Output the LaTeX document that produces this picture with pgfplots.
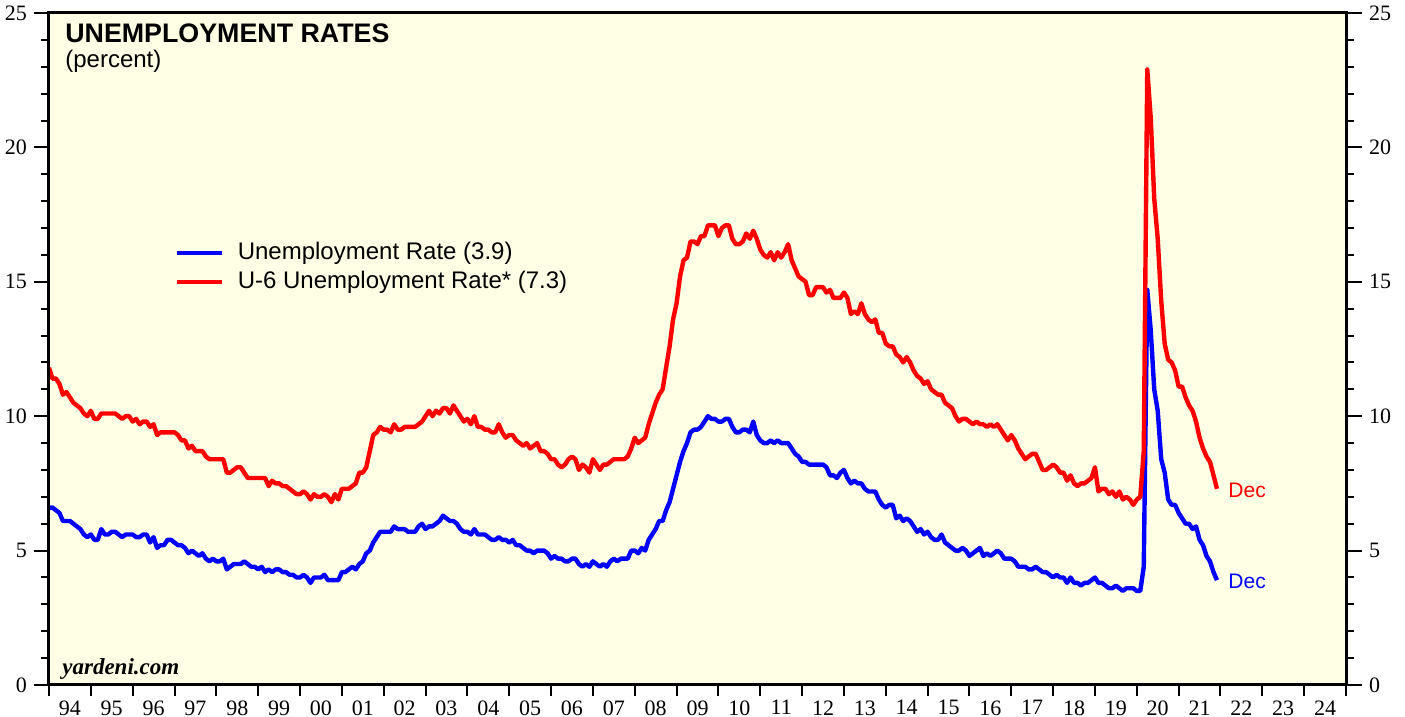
\documentclass[border=0pt]{standalone}
\usepackage{pgfplots}
\pgfplotsset{compat=1.18}
\usepackage{pgfplotstable}
\usepackage{fontspec}
\setmainfont{Liberation Sans}
\newfontfamily\timesf{Liberation Serif}
\definecolor{bgyellow}{RGB}{255,255,230}
\definecolor{ured}{RGB}{255,0,0}
\definecolor{ublue}{RGB}{0,0,255}

% monthly data Jan 1994 - Dec 2021
\pgfplotstableread{
u3 u6
6.6 11.8
6.6 11.4
6.5 11.4
6.4 11.2
6.1 10.8
6.1 10.9
6.1 10.7
6.0 10.5
5.9 10.4
5.8 10.3
5.6 10.1
5.5 10.0
5.6 10.2
5.4 9.9
5.4 9.9
5.8 10.1
5.6 10.1
5.6 10.1
5.7 10.1
5.7 10.1
5.6 10.0
5.5 9.9
5.6 10.0
5.6 10.0
5.6 9.8
5.5 9.9
5.5 9.7
5.6 9.8
5.6 9.8
5.3 9.6
5.5 9.7
5.1 9.3
5.2 9.4
5.2 9.4
5.4 9.4
5.4 9.4
5.3 9.4
5.2 9.3
5.2 9.1
5.1 9.1
4.9 8.8
5.0 8.9
4.9 8.7
4.8 8.7
4.9 8.7
4.7 8.5
4.6 8.4
4.7 8.4
4.6 8.4
4.6 8.4
4.7 8.4
4.3 7.9
4.4 7.9
4.5 8.0
4.5 8.1
4.5 8.1
4.6 7.9
4.5 7.7
4.4 7.7
4.4 7.7
4.3 7.7
4.4 7.7
4.2 7.7
4.3 7.4
4.2 7.6
4.3 7.5
4.3 7.5
4.2 7.4
4.2 7.4
4.1 7.3
4.1 7.2
4.0 7.1
4.0 7.1
4.1 7.2
4.0 7.1
3.8 6.9
4.0 7.1
4.0 7.0
4.0 7.0
4.1 7.1
3.9 7.0
3.9 6.8
3.9 7.1
3.9 6.9
4.2 7.3
4.2 7.3
4.3 7.3
4.4 7.4
4.3 7.5
4.5 7.9
4.6 7.9
4.9 8.1
5.0 8.7
5.3 9.3
5.5 9.4
5.7 9.6
5.7 9.5
5.7 9.5
5.7 9.4
5.9 9.7
5.8 9.5
5.8 9.5
5.8 9.6
5.7 9.6
5.7 9.6
5.7 9.6
5.9 9.7
6.0 9.8
5.8 10.0
5.9 10.2
5.9 10.0
6.0 10.2
6.1 10.1
6.3 10.3
6.2 10.3
6.1 10.1
6.1 10.4
6.0 10.2
5.8 10.0
5.7 9.8
5.7 9.9
5.6 9.7
5.8 10.0
5.6 9.6
5.6 9.6
5.6 9.5
5.5 9.5
5.4 9.4
5.4 9.4
5.5 9.7
5.4 9.4
5.4 9.2
5.3 9.3
5.4 9.3
5.2 9.1
5.2 9.0
5.1 8.9
5.0 9.0
5.0 8.8
4.9 8.9
5.0 9.0
5.0 8.7
5.0 8.7
4.9 8.6
4.7 8.4
4.8 8.4
4.7 8.2
4.7 8.1
4.6 8.2
4.6 8.4
4.7 8.5
4.7 8.4
4.5 8.0
4.4 8.2
4.5 8.1
4.4 7.9
4.6 8.4
4.5 8.2
4.4 8.0
4.5 8.2
4.4 8.2
4.6 8.3
4.7 8.4
4.6 8.4
4.7 8.4
4.7 8.4
4.7 8.5
5.0 8.8
5.0 9.2
4.9 9.0
5.1 9.1
5.0 9.2
5.4 9.7
5.6 10.1
5.8 10.5
6.1 10.8
6.1 11.0
6.5 11.8
6.8 12.6
7.3 13.6
7.8 14.2
8.3 15.2
8.7 15.8
9.0 15.9
9.4 16.5
9.5 16.5
9.5 16.4
9.6 16.7
9.8 16.7
10.0 17.1
9.9 17.1
9.9 17.1
9.8 16.7
9.8 17.0
9.9 17.1
9.9 17.1
9.6 16.6
9.4 16.4
9.4 16.4
9.5 16.5
9.5 16.8
9.4 16.6
9.8 16.9
9.3 16.6
9.1 16.2
9.0 16.0
9.0 15.9
9.1 16.1
9.0 15.8
9.1 16.1
9.0 15.9
9.0 16.1
9.0 16.4
8.8 15.8
8.6 15.5
8.5 15.2
8.3 15.1
8.3 15.0
8.2 14.5
8.2 14.5
8.2 14.8
8.2 14.8
8.2 14.8
8.1 14.6
7.8 14.7
7.8 14.4
7.7 14.4
7.9 14.4
8.0 14.6
7.7 14.4
7.5 13.8
7.6 13.9
7.5 13.8
7.5 14.2
7.3 13.8
7.2 13.6
7.2 13.5
7.2 13.6
6.9 13.1
6.7 13.1
6.6 12.7
6.7 12.6
6.7 12.6
6.2 12.3
6.3 12.2
6.1 12.0
6.2 12.2
6.1 12.0
5.9 11.7
5.7 11.5
5.8 11.4
5.6 11.2
5.7 11.3
5.5 11.0
5.4 10.9
5.4 10.8
5.6 10.8
5.3 10.5
5.2 10.4
5.1 10.3
5.0 10.0
5.0 9.8
5.1 9.9
5.0 9.9
4.8 9.8
4.9 9.7
5.0 9.8
5.1 9.7
4.8 9.7
4.9 9.6
4.8 9.7
4.9 9.6
5.0 9.7
4.9 9.5
4.7 9.3
4.7 9.1
4.7 9.3
4.6 9.1
4.4 8.8
4.4 8.6
4.4 8.4
4.3 8.5
4.3 8.6
4.4 8.6
4.3 8.3
4.2 8.0
4.2 8.0
4.1 8.1
4.0 8.2
4.1 8.1
4.0 7.9
4.0 7.9
3.8 7.6
4.0 7.8
3.8 7.5
3.8 7.4
3.7 7.5
3.8 7.5
3.8 7.6
3.9 7.7
4.0 8.1
3.8 7.2
3.8 7.3
3.7 7.3
3.6 7.1
3.6 7.2
3.7 7.0
3.6 7.2
3.5 6.9
3.6 7.0
3.6 6.9
3.6 6.7
3.5 6.9
3.5 7.0
4.4 8.7
14.7 22.9
13.2 21.1
11.0 18.1
10.2 16.6
8.4 14.3
7.9 12.7
6.9 12.1
6.7 12.0
6.7 11.7
6.4 11.1
6.2 11.1
6.0 10.7
6.0 10.4
5.8 10.2
5.9 9.8
5.4 9.2
5.2 8.8
4.8 8.5
4.6 8.3
4.2 7.8
3.9 7.3
}\datatable

\begin{document}
\begin{tikzpicture}
% main axis: background, data, x ticks
\begin{axis}[
  scale only axis, width=648.5pt, height=336pt,
  xmin=1994, xmax=2025, ymin=0, ymax=25,
  axis background/.style={fill=bgyellow},
  axis line style={line width=1.5pt, black},
  xtick={1994,1995,...,2025},
  xticklabels={94,95,96,97,98,99,00,01,02,03,04,05,06,07,08,09,10,11,12,13,14,15,16,17,18,19,20,21,22,23,24,{}},
  xtick pos=bottom,
  ytick=\empty,
  tick align=outside,
  major tick length=5.5pt,
  tick style={line width=1pt, black},
  /pgf/number format/assume math mode=true,
  xticklabel style={font=\timesf\fontsize{11}{13}\selectfont, xshift=10.46pt, yshift=1.3pt},
  legend style={at={(0.097,0.661)}, anchor=north west, draw=none, fill=none,
    font=\fontsize{12}{14}\selectfont, inner sep=0pt, row sep=2.5pt,
    nodes={inner xsep=2.6pt, inner ysep=0pt, text height=9pt, text depth=3pt}},
  legend cell align=left,
  legend image code/.code={\draw[#1] (0pt,0pt) -- (22.5pt,0pt); \path (26.5pt,0pt);},
  clip=false,
]
\addplot[ublue, line width=2.2pt, line join=round] table[x expr={1994+\coordindex/12}, y=u3] {\datatable};
\addlegendentry{Unemployment Rate (3.9)}
\addplot[ured, line width=2.2pt, line join=round] table[x expr={1994+\coordindex/12}, y=u6] {\datatable};
\addlegendentry{U-6 Unemployment Rate* (7.3)}

\node[anchor=base west, inner sep=0pt, font=\bfseries\fontsize{13.4}{15}\selectfont] at (rel axis cs:0.0123,0.9568) {UNEMPLOYMENT RATES};
\node[anchor=base west, inner sep=0pt, font=\fontsize{12}{14}\selectfont] at (rel axis cs:0.0123,0.9196) {(percent)};
\node[anchor=base west, inner sep=0pt, font=\timesf\bfseries\itshape\fontsize{11.5}{13}\selectfont] at (rel axis cs:0.010,0.0149) {yardeni.com};
\node[anchor=base west, inner sep=0pt, text=ured, font=\fontsize{10.5}{12}\selectfont] at (axis cs:2022.18,6.96) {Dec};
\node[anchor=base west, inner sep=0pt, text=ublue, font=\fontsize{10.5}{12}\selectfont] at (axis cs:2022.18,3.6) {Dec};
\end{axis}
% left y axis
\begin{axis}[
  scale only axis, width=648.5pt, height=336pt,
  xmin=1994, xmax=2025, ymin=0, ymax=25,
  axis x line=none, axis y line*=left,
  axis line style={line width=1.5pt, black, -},
  ytick={0,5,10,15,20,25}, minor y tick num=4,
  tick align=outside, major tick length=7.5pt, minor tick length=3.75pt,
  tick style={line width=1pt, black},
  /pgf/number format/assume math mode=true,
  yticklabel style={font=\timesf\fontsize{11}{13}\selectfont},
]
\end{axis}
% right y axis
\begin{axis}[
  scale only axis, width=648.5pt, height=336pt,
  xmin=1994, xmax=2025, ymin=0, ymax=25,
  axis x line=none, axis y line*=right,
  axis line style={line width=1.5pt, black, -},
  ytick={0,5,10,15,20,25}, minor y tick num=4,
  tick align=outside, major tick length=8pt, minor tick length=4pt,
  tick style={line width=1pt, black},
  /pgf/number format/assume math mode=true,
  yticklabel style={font=\timesf\fontsize{11}{13}\selectfont},
]
\end{axis}
\pgfresetboundingbox
\useasboundingbox (-24.5pt,-16pt) rectangle (678pt,342.5pt);
\end{tikzpicture}
\end{document}
